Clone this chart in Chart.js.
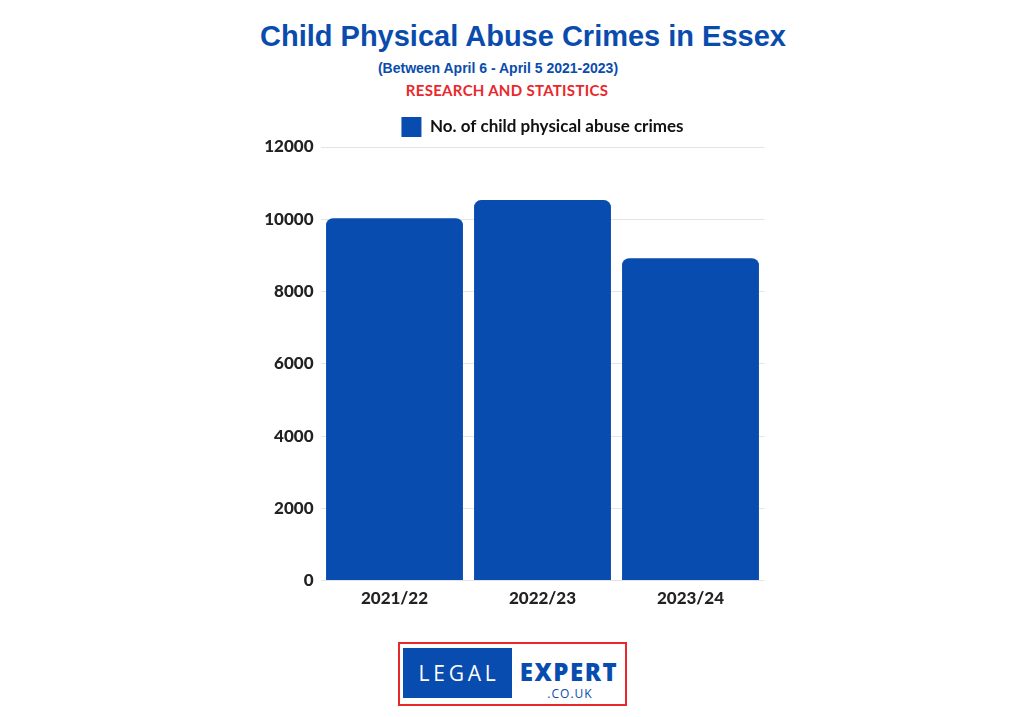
<!DOCTYPE html>
<html lang="en">
<head>
  <meta charset="UTF-8" />
  <script src="https://cdn.jsdelivr.net/npm/chart.js"></script>
  <title>Child Physical Abuse Crimes in Essex</title>
  <style>
    html, body { margin: 0; padding: 0; background: #fff; }
    body { width: 1024px; height: 717px; position: relative; overflow: hidden; }
    .title { position: absolute; left: 0; width: 1046px; top: 20px; text-align: center;
      font: bold 29px 'Liberation Sans', Arial, sans-serif; color: #0a4cae; }
    .sub { position: absolute; left: 0; width: 996px; top: 60px; text-align: center;
      font: bold 14px 'Liberation Sans', Arial, sans-serif; color: #0a4cae; }
    .research { position: absolute; left: 0; width: 1014px; top: 81px; text-align: center;
      font: bold 15px Lato, sans-serif; color: #e8282b; letter-spacing: 0.3px; }
    #wrap { position: absolute; left: 256px; top: 105px; width: 568px; height: 504px; }
    .logo { position: absolute; left: 398px; top: 642px; width: 225px; height: 60px;
      border: 2px solid #e8282b; }
    .logo .legal { position: absolute; left: 3px; top: 4px; width: 109px; height: 50px; background: #084caf;
      color: #fff; font: 400 21px 'Open Sans', sans-serif; letter-spacing: 3.8px; text-indent: 3px;
      line-height: 50px; text-align: center; }
    .logo .expert { position: absolute; left: 116px; top: 16px; width: 106px; text-align: center;
      color: #084caf; font: 800 24px 'Open Sans', sans-serif; letter-spacing: 1.5px; line-height: 24px; }
    .logo .couk { position: absolute; left: 118px; top: 41px; width: 104px; text-align: center;
      color: #084caf; font: 400 12px 'Open Sans', sans-serif; letter-spacing: 1px; }
  </style>
</head>
<body>
  <div class="title">Child Physical Abuse Crimes in Essex</div>
  <div class="sub">(Between April 6 - April 5 2021-2023)</div>
  <div class="research">RESEARCH AND STATISTICS</div>
  <div id="wrap"><canvas id="chart"></canvas></div>
  <div class="logo">
    <div class="legal">LEGAL</div>
    <div class="expert">EXPERT</div>
    <div class="couk">.CO.UK</div>
  </div>

  <script>
    const years = ['2021/22', '2022/23', '2023/24'];
    const crimes = [10030, 10530, 8920];
    const seriesLabel = 'No. of child physical abuse crimes';

    const barBlue = '#074cae';
    const tickFont = { family: 'Lato', size: 17, weight: 900 };

    new Chart(document.getElementById('chart'), {
      type: 'bar',
      data: {
        labels: years,
        datasets: [{
          label: seriesLabel,
          data: crimes,
          backgroundColor: barBlue,
          borderRadius: { topLeft: 7, topRight: 7 },
          borderSkipped: 'bottom',
          categoryPercentage: 0.925,
          barPercentage: 1
        }]
      },
      options: {
        responsive: true,
        maintainAspectRatio: false,
        animation: false,
        layout: { padding: { left: 0, right: 59.5, top: 4, bottom: 0 } },
        plugins: {
          legend: {
            position: 'top',
            fullSize: false,
            labels: {
              boxWidth: 20, boxHeight: 20,
              color: '#111',
              font: { family: 'Lato', size: 17, weight: 'bold' },
              padding: 8
            }
          },
          tooltip: { enabled: false }
        },
        scales: {
          x: {
            grid: { display: false },
            border: { display: false },
            ticks: { color: '#222', font: tickFont, padding: 0 }
          },
          y: {
            min: 0, max: 12000,
            afterFit: (axis) => { axis.width = 64.5; },
            grid: { color: '#e4e4e4', drawTicks: false },
            border: { display: false },
            ticks: { stepSize: 2000, color: '#222', padding: 7, font: tickFont,
              callback: (v) => String(v) }
          }
        }
      }
    });
  </script>
</body>
</html>
